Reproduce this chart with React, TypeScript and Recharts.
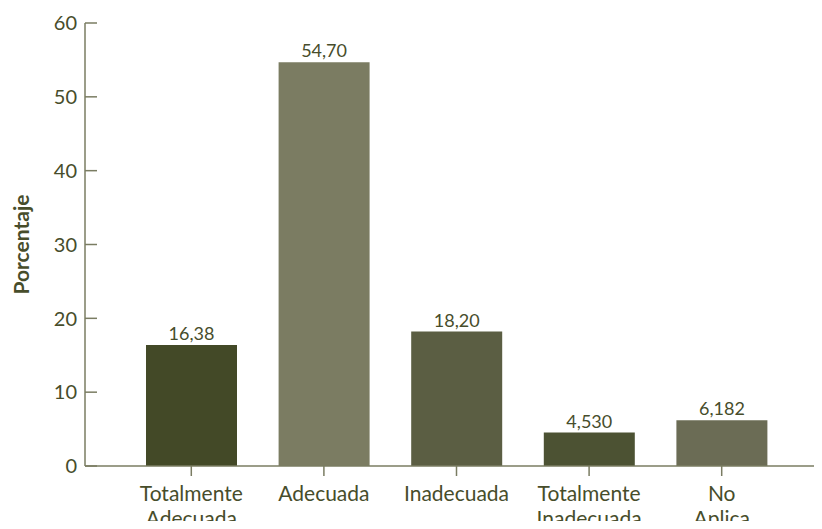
import React from 'react';
import { BarChart, Bar, XAxis, YAxis, Cell, LabelList } from 'recharts';

// Categories are split on "\n" to get the two-line tick labels.
const categories = ['Totalmente\nAdecuada', 'Adecuada', 'Inadecuada', 'Totalmente\nInadecuada', 'No\nAplica'];
const values = [16.38, 54.7, 18.2, 4.53, 6.182];
const valueLabels = ['16,38', '54,70', '18,20', '4,530', '6,182'];
const yTicks = [0, 10, 20, 30, 40, 50, 60];

const barColors = ['#434927', '#7b7c62', '#5b5e43', '#4c5233', '#6b6c55'];
const textColor = '#474d2b';
const axisColor = '#7a7c62';
const font = 'Lato, "Gill Sans", sans-serif';

const data = categories.map((name, i) => ({ name, value: values[i], label: valueLabels[i] }));

const XTick = (props: any) => {
  const { x, y, payload } = props;
  const lines = String(payload.value).split('\n');
  return (
    <text x={x} y={y} textAnchor="middle" fill={textColor} fontSize={21} fontFamily={font}>
      {lines.map((l, i) => (
        <tspan key={i} x={x} dy={i === 0 ? '0.72em' : 25}>{l}</tspan>
      ))}
    </text>
  );
};

// y ticks are drawn pointing into the plot, so the line is part of the custom tick
const YTick = (props: any) => {
  const { x, y, payload } = props;
  return (
    <g>
      <line x1={x + 8} x2={x + 20} y1={y} y2={y} stroke={axisColor} strokeWidth={1.5} />
      <text x={x} y={y} dy="0.36em" textAnchor="end" fill={textColor} fontSize={20} fontFamily={font}>
        {payload.value}
      </text>
    </g>
  );
};

const App: React.FC = () => {
  return (
    <div style={{ margin: -8, width: 822, height: 529, background: '#fff' }}>
      <BarChart width={822} height={529} data={data} margin={{ top: 23, right: 0, bottom: 0, left: 0 }}>
        <XAxis
          dataKey="name"
          interval={0}
          height={63}
          padding={{ left: 40, right: 34 }}
          axisLine={{ stroke: axisColor, strokeWidth: 1.5 }}
          tickLine={{ stroke: axisColor, strokeWidth: 1.5 }}
          tickSize={10}
          tickMargin={10}
          tick={<XTick />}
        />
        <YAxis
          width={85}
          domain={[0, 60]}
          ticks={yTicks}
          interval={0}
          axisLine={{ stroke: axisColor, strokeWidth: 1.5 }}
          tickLine={false}
          tickSize={0}
          tickMargin={8}
          tick={<YTick />}
          label={{
            value: 'Porcentaje',
            angle: -90,
            position: 'insideLeft',
            offset: 22,
            style: { textAnchor: 'middle', fill: textColor, fontSize: 21, fontWeight: 700, fontFamily: font },
          }}
        />
        <Bar dataKey="value" barSize={91} isAnimationActive={false}>
          {data.map((d, i) => (
            <Cell key={d.name} fill={barColors[i]} />
          ))}
          <LabelList dataKey="label" position="top" offset={5} fill={textColor} fontSize={18} fontFamily={font} />
        </Bar>
      </BarChart>
    </div>
  );
};

export default App;
